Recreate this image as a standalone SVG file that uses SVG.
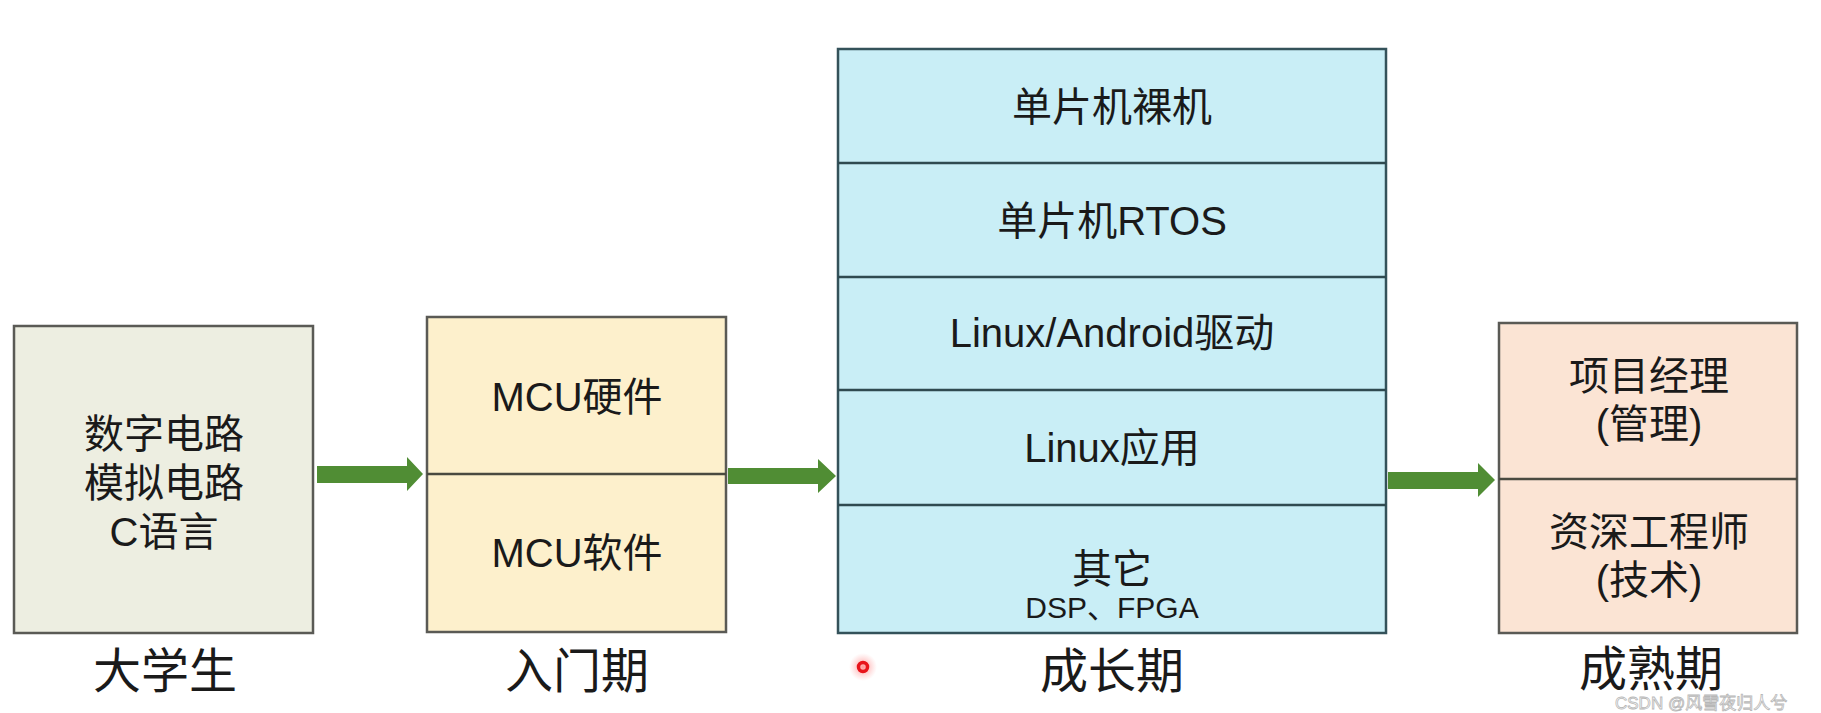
<svg xmlns="http://www.w3.org/2000/svg" width="1821" height="713" viewBox="0 0 1821 713">
<defs>
<radialGradient id="glow">
<stop offset="0" stop-color="#ff4040" stop-opacity="0.55"/>
<stop offset="1" stop-color="#ff8080" stop-opacity="0"/>
</radialGradient>
</defs>
<style>
.box{stroke:#5a5a55;stroke-width:2.5}
.b1{fill:#edeee1}
.b2{fill:#fdf0cc}
.b3{fill:#c9eef6;stroke:#34525a}
.b4{fill:#fbe4d4}
.div{stroke:#4a4a40;stroke-width:2.5}
.div3{stroke:#2f4a50;stroke-width:2.5}
.t{font-family:"Liberation Sans","Noto Sans CJK SC",sans-serif;font-size:40px;fill:#1a1a1a;text-anchor:middle}
.s{font-family:"Liberation Sans","Noto Sans CJK SC",sans-serif;font-size:30px;fill:#1a1a1a;text-anchor:middle}
.lab{font-family:"Noto Sans CJK SC",sans-serif;font-size:48px;fill:#1a1a1a;text-anchor:middle}
.arr{fill:#508d34}
.wm{font-family:"Liberation Sans","Noto Sans CJK SC",sans-serif;font-size:17px;fill:#ffffff;stroke:#b0b0b0;stroke-width:0.8;opacity:0.9}
</style>
<rect width="1821" height="713" fill="#ffffff"/>

<g id="connectors">
<path class="arr" d="M317,466 H407 V457 L423,474 L407,491 V483 H317 Z"/>
<path class="arr" d="M728,468 H818 V459 L836,476 L818,493 V484 H728 Z"/>
<path class="arr" d="M1388,472 H1478 V463 L1495,480 L1478,497 V489 H1388 Z"/>
</g>

<g id="node-student">
<rect class="box b1" x="14" y="326" width="299" height="307"/>
<text class="t" x="164" y="448">数字电路</text>
<text class="t" x="164" y="497">模拟电路</text>
<text class="t" x="164" y="546">C语言</text>
<text class="lab" x="165" y="688">大学生</text>
</g>

<g id="node-entry">
<rect class="box b2" x="427" y="317" width="299" height="315"/>
<line class="div" x1="427" y1="474" x2="726" y2="474"/>
<text class="t" x="577" y="411">MCU硬件</text>
<text class="t" x="577" y="567">MCU软件</text>
<text class="lab" x="577" y="688">入门期</text>
</g>

<g id="node-growth">
<rect class="box b3" x="838" y="49" width="548" height="584"/>
<line class="div3" x1="838" y1="163" x2="1386" y2="163"/>
<line class="div3" x1="838" y1="277" x2="1386" y2="277"/>
<line class="div3" x1="838" y1="390" x2="1386" y2="390"/>
<line class="div3" x1="838" y1="505" x2="1386" y2="505"/>
<text class="t" x="1112" y="121">单片机裸机</text>
<text class="t" x="1112" y="235">单片机RTOS</text>
<text class="t" x="1112" y="347">Linux/Android驱动</text>
<text class="t" x="1112" y="462">Linux应用</text>
<text class="t" x="1112" y="583">其它</text>
<text class="s" x="1112" y="618">DSP、FPGA</text>
<text class="lab" x="1112" y="688">成长期</text>
</g>

<g id="node-mature">
<rect class="box b4" x="1499" y="323" width="298" height="310"/>
<line class="div" x1="1499" y1="479" x2="1797" y2="479"/>
<text class="t" x="1649" y="390">项目经理</text>
<text class="t" x="1649" y="438">(管理)</text>
<text class="t" x="1649" y="546">资深工程师</text>
<text class="t" x="1649" y="594">(技术)</text>
<text class="lab" x="1651" y="686">成熟期</text>
</g>

<g id="pointer">
<circle cx="863" cy="667" r="14" fill="url(#glow)"/>
<circle cx="863" cy="667" r="4.5" fill="none" stroke="#e8141b" stroke-width="3.5"/>
</g>

<text class="wm" x="1615" y="709">CSDN @风雪夜归人兮</text>
</svg>
